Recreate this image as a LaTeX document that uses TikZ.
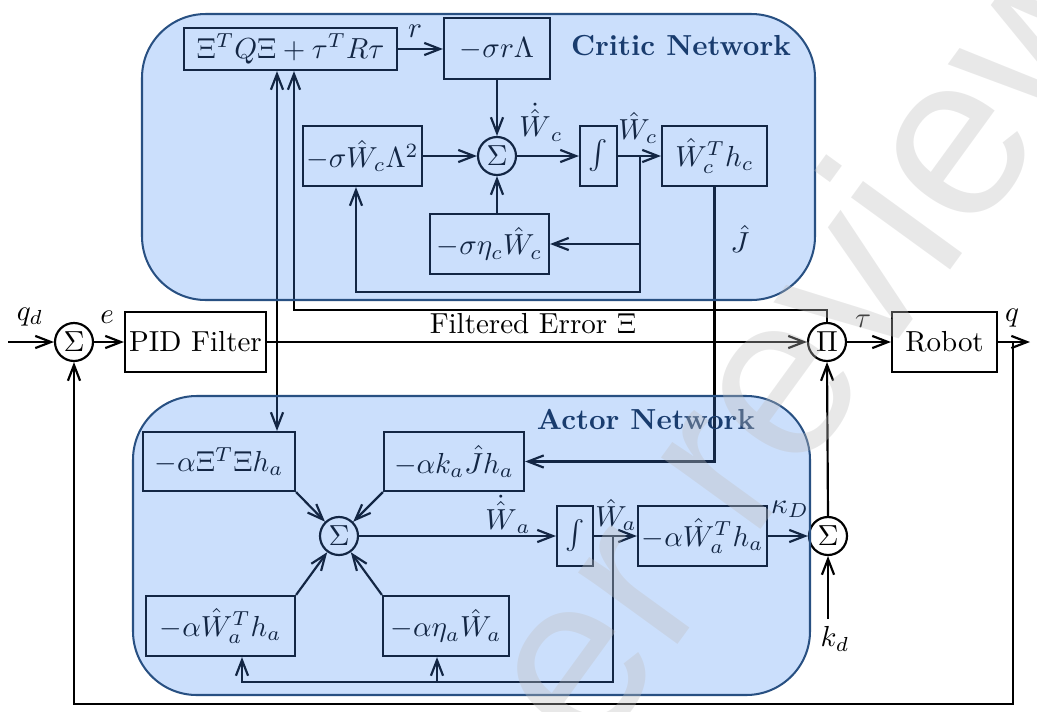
\documentclass[tikz,border=0pt]{standalone}
\usepackage{fontspec}
\usetikzlibrary{arrows.meta,calc}
\newfontfamily\wmfont{Liberation Sans}
\definecolor{netblue}{RGB}{70,140,245}
\definecolor{netedge}{RGB}{40,80,130}
\definecolor{nettitle}{RGB}{25,60,110}
\definecolor{wmgray}{RGB}{190,190,190}
\def\pxu{0.345pt}
\tikzset{
  blk/.style 2 args={draw, rectangle, minimum width=#1*\pxu, minimum height=#2*\pxu, inner sep=0pt},
  junc/.style={draw, circle, minimum size=38*\pxu, inner sep=0pt},
  arr/.style={-{Straight Barb[length=5.4pt,width=4.2pt]}},
  net/.style={draw=netedge, line width=0.7pt, fill=netblue, fill opacity=0.28, rounded corners=22pt},
  nettitle/.style={text=nettitle, font=\bfseries},
  lbl/.style={inner sep=0pt}
}
\begin{document}
\begin{tikzpicture}[x=\pxu, y=-\pxu, line width=0.75pt]
\useasboundingbox (0,0) rectangle (1037,711);

% main loop
\node[junc] (s1) at (74,342) {$\Sigma$};
\node[blk={141}{60}] (pid) at (195.5,342) {PID Filter};
\node[junc] (pi) at (827,342) {$\Pi$};
\node[blk={105}{60}] (rob) at (944.5,342) {Robot};

% critic blocks
\node[blk={213}{42}] (cost) at (290.5,49) {$\Xi^TQ\Xi+\tau^TR\tau$};
\node[blk={106}{61}] (srl) at (497,48.5) {$-\sigma r\Lambda$};
\node[junc] (sc) at (497,156) {$\Sigma$};
\node[blk={119}{60}] (swl) at (362.5,156) {$-\sigma\hat W_c\Lambda^2$};
\node[blk={37}{60}] (ic) at (598.5,156) {$\int$};
\node[blk={105}{60}] (wth) at (714.5,156) {$\hat W_c^Th_c$};
\node[blk={119}{60}] (sew) at (489.5,244) {$-\sigma\eta_c\hat W_c$};

% actor blocks
\node[blk={152}{59}] (axi) at (219,461.5) {$-\alpha\Xi^T\Xi h_a$};
\node[blk={140}{59}] (aj) at (454,461.5) {$-\alpha k_a\hat J h_a$};
\node[junc] (sa) at (339,536) {$\Sigma$};
\node[blk={36}{60}] (ia) at (575,536) {$\int$};
\node[blk={129}{60}] (awth) at (702.5,536) {$-\alpha\hat W_a^Th_a$};
\node[junc] (s2) at (828,536) {$\Sigma$};
\node[blk={149}{60}] (awh) at (220.5,626) {$-\alpha\hat W_a^Th_a$};
\node[blk={126}{60}] (aew) at (446,626) {$-\alpha\eta_a\hat W_a$};

% branch and bend points
\coordinate (qin) at (8,342);
\coordinate (qout) at (1030,342);
\coordinate (qtap) at (1013,342);
\coordinate (fb) at (1013,704);
\coordinate (xit) at (277,342);
\coordinate (taul) at (294,310);
\coordinate (cbr) at (640,156);
\coordinate (cbm) at (640,244);
\coordinate (cfx) at (356,292);
\coordinate (abr) at (613,536);
\coordinate (afx) at (242,682);
\coordinate (afm) at (437,682);
\coordinate (kd) at (828,619);

% main loop connectors
\draw[arr] (qin) -- (s1.west);
\draw[arr] (s1.east) -- (pid.west);
\draw[arr] (pid.east) -- (pi.west);
\draw[arr] (pi.east) -- (rob.west);
\draw[arr] (rob.east) -- (qout);
\draw[arr] (qtap) -- (fb) -| (s1.south);
\draw[arr] (xit) -- (xit |- cost.south);
\draw[arr] (xit) -- (xit |- axi.north);
\draw[arr] (pi.north) |- (taul) -- (taul |- cost.south);

% critic connectors
\draw[arr] (cost.east) -- (cost.east -| srl.west);
\draw[arr] (srl.south) -- (sc.north);
\draw[arr] (swl.east) -- (sc.west);
\draw[arr] (sc.east) -- (ic.west);
\draw[arr] (ic.east) -- (wth.west);
\draw[arr] (cbr) |- (cfx) -- (cfx |- swl.south);
\draw[arr] (cbm) -- (sew.east);
\draw[arr] (sew.north -| sc) -- (sc.south);
\draw[arr] (wth.south) |- (aj.east);

% actor connectors
\draw[arr] (axi.south east) -- (sa);
\draw[arr] (aj.south west) -- (sa);
\draw[arr] (awh.north east) -- (sa);
\draw[arr] (aew.north west) -- (sa);
\draw[arr] (sa.east) -- (ia.west);
\draw[arr] (ia.east) -- (awth.west);
\draw[arr] (abr) |- (afx) -- (afx |- awh.south);
\draw[arr] (afm) -- (afm |- aew.south);
\draw[arr] (awth.east) -- (s2.west);
\draw[arr] (s2.north) -- (pi.south);
\draw[arr] (kd) -- (s2.south);

% signal labels
\node[lbl, anchor=base] (lqd) at (30,320) {$q_d$};
\node[lbl, anchor=base] (le) at (107,323) {$e$};
\node[lbl, anchor=base] (lfe) at (533,333) {Filtered Error $\Xi$};
\node[lbl, anchor=base] (ltau) at (863,327) {$\tau$};
\node[lbl, anchor=base] (lq) at (1012,321) {$q$};
\node[lbl, anchor=base] (lr) at (415,37) {$r$};
\node[lbl] (lJ) at (740,239) {$\hat J$};
\node[lbl] (lwdc) at (541,122) {$\dot{\hat W}_c$};
\node[lbl] (lwc) at (638,128) {$\hat W_c$};
\node[lbl] (lwda) at (508,514) {$\dot{\hat W}_a$};
\node[lbl] (lwa) at (616,515) {$\hat W_a$};
\node[lbl] (lkD) at (790,509) {$\kappa_D$};
\node[lbl] (lkd) at (835,639) {$k_d$};

% network panels
\draw[net] (142,14) rectangle (815,300);
\draw[net] (133,396) rectangle (810,695);
\node[nettitle] (tc) at (681,46) {Critic Network};
\node[nettitle] (ta) at (646,419) {Actor Network};

% watermark
\node[rotate=54, text=wmgray, opacity=0.35, font=\wmfont\fontsize{80}{80}\selectfont] (wm) at (745,450) {peer review};
\end{tikzpicture}
\end{document}
